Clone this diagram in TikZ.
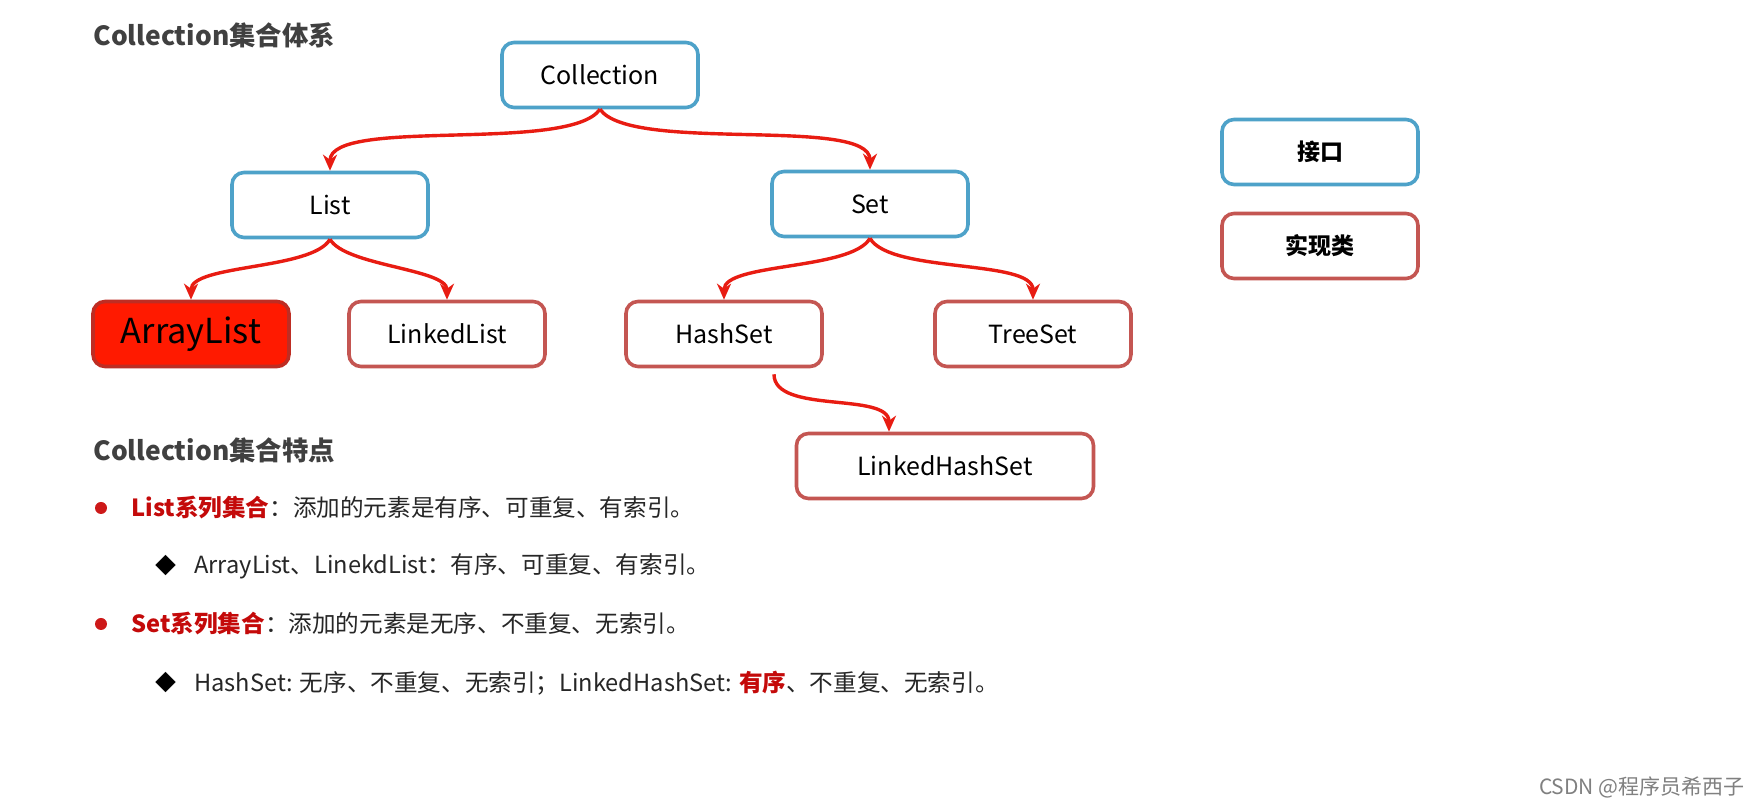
\documentclass[tikz,border=0pt]{standalone}
\usepackage{fontspec}
\setmainfont{Noto Sans CJK SC}
\usetikzlibrary{arrows.meta}
\definecolor{ifblue}{RGB}{78,162,201}
\definecolor{implred}{RGB}{196,86,82}
\definecolor{arrowred}{RGB}{232,28,18}
\definecolor{alred}{RGB}{255,26,0}
\definecolor{alborder}{RGB}{190,45,35}
\definecolor{titlegray}{RGB}{64,64,64}
\definecolor{listred}{RGB}{196,10,10}
\definecolor{dotred}{RGB}{205,25,25}
\begin{document}
\begin{tikzpicture}[x=0.5pt,y=0.5pt]
        \tikzstyle{iface}=[draw=ifblue,line width=1.8pt,rounded corners=6pt,fill=white,minimum width=98pt,minimum height=32.5pt,font=\fontsize{12.5}{15}\selectfont]
        \tikzstyle{impl}=[iface,draw=implred]
        \tikzstyle{edge}=[draw=arrowred,line width=1.7pt,-{Stealth[length=8pt,width=7pt,inset=2.5pt]}]
        \tikzstyle{heading}=[anchor=west,inner sep=0pt,text=titlegray,font=\fontsize{13.2}{16}\selectfont\bfseries]
        \tikzstyle{itemtext}=[anchor=west,inner sep=0pt,text=black!85,font=\fontsize{11.8}{14}\selectfont]
        \tikzstyle{rdot}=[circle,fill=dotred,inner sep=0pt,minimum size=6pt]
        \tikzstyle{diam}=[inner sep=0pt,font=\fontsize{10.5}{12}\selectfont]

        \fill[white] (0,0) rectangle (1758,808);
        \useasboundingbox (0,0) rectangle (1758,808);

       \begin{scope}

         \node [heading] (t1) at (93,773) {Collection集合体系};

         \node [iface] (coll) at (600,733) {Collection};
         \node [iface] (list) at (330,603) {List};
         \node [iface] (set) at (870,604) {Set};
         \node [impl,fill=alred,draw=alborder,font=\fontsize{17.2}{20}\selectfont] (al) at (191,474) {ArrayList};
         \node [impl] (ll) at (447,474) {LinkedList};
         \node [impl] (hs) at (724,474) {HashSet};
         \node [impl] (ts) at (1033,474) {TreeSet};
         \node [impl,minimum width=148.5pt] (lhs) at (945,342) {LinkedHashSet};

         \node [iface,font=\fontsize{11.5}{14}\selectfont\bfseries] (if) at (1320,656) {接口};
         \node [impl,font=\fontsize{11.5}{14}\selectfont\bfseries] (im) at (1320,562) {实现类};

 		\path (coll.south) edge [edge,out=-125,in=90,looseness=0.5] (list.north);
 		\path (coll.south) edge [edge,out=-55,in=90,looseness=0.5] (set.north);
 		\path (list.south) edge [edge,out=-120,in=90,looseness=0.6] (al.north);
 		\path (list.south) edge [edge,out=-60,in=90,looseness=0.6] (ll.north);
 		\path (set.south) edge [edge,out=-120,in=90,looseness=0.6] (hs.north);
 		\path (set.south) edge [edge,out=-60,in=90,looseness=0.6] (ts.north);
 		\path ([xshift=25pt,yshift=-3pt]hs.south) edge [edge,out=-90,in=90,looseness=0.8] ([xshift=-28pt]lhs.north);

         \node [heading] (t2) at (93,358) {Collection集合特点};

         \node [rdot] (d1) at (101,300) {};
         \node [itemtext] (b1) at (131,300) {\textcolor{listred}{\bfseries List系列集合}：添加的元素是有序、可重复、有索引。};
         \node [diam] (m1) at (166,242) {◆};
         \node [itemtext] (s1) at (194,242) {ArrayList、LinekdList：有序、可重复、有索引。};
         \node [rdot] (d2) at (101,184) {};
         \node [itemtext] (b2) at (131,184) {\textcolor{listred}{\bfseries Set系列集合}：添加的元素是无序、不重复、无索引。};
         \node [diam] (m2) at (166,125) {◆};
         \node [itemtext] (s2) at (194,125) {HashSet: 无序、不重复、无索引；LinkedHashSet: \textcolor{listred}{\bfseries 有序}、不重复、无索引。};

         \node [anchor=east,inner sep=0pt,text=black!50,font=\fontsize{10.5}{12}\selectfont] (wm) at (1745,21) {CSDN @程序员希西子};

        \end{scope}
      \end{tikzpicture}
\end{document}
